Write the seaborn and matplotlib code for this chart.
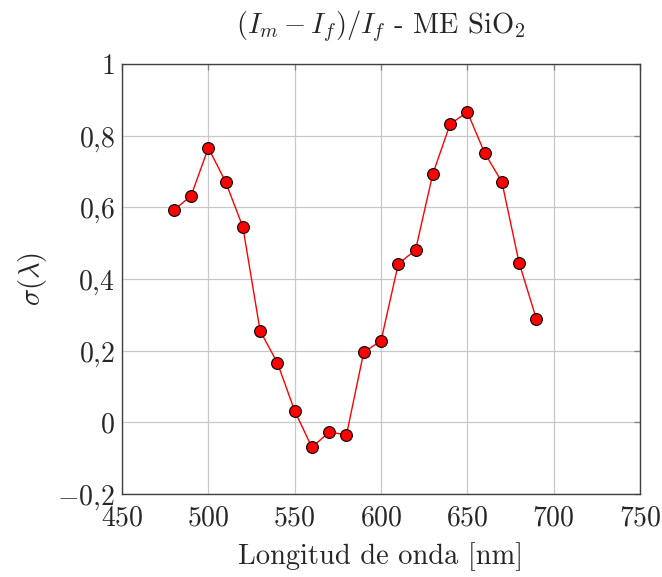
import matplotlib
matplotlib.use("Agg")
import matplotlib.pyplot as plt
import seaborn as sns
import pandas as pd
from matplotlib.ticker import FuncFormatter, MultipleLocator

wavelength = [480, 490, 500, 510, 520, 530, 540, 550, 560, 570, 580,
              590, 600, 610, 620, 630, 640, 650, 660, 670, 680, 690]
sigma = [0.592, 0.632, 0.766, 0.671, 0.545, 0.255, 0.166, 0.032, -0.070, -0.027, -0.035,
         0.196, 0.227, 0.442, 0.481, 0.693, 0.832, 0.866, 0.752, 0.671, 0.445, 0.288]

title = r"$(I_m - I_f)/I_f$ - ME SiO$_2$"
xlabel = "Longitud de onda [nm]"
ylabel = r"$\sigma(\lambda)$"

sns.set_style("white")
plt.rcParams["font.family"] = ["cmr10", "DejaVu Serif"]
plt.rcParams["mathtext.fontset"] = "cm"
plt.rcParams["axes.unicode_minus"] = True

df = pd.DataFrame({"wl": wavelength, "s": sigma})

fig = plt.figure(figsize=(6.62, 5.77), dpi=100)
ax = fig.add_axes([122/662, 1-494/577, (640-122)/662, (494-64)/577])

sns.lineplot(data=df, x="wl", y="s", ax=ax, color="red", linewidth=1.0,
             marker="o", markersize=8.5, markerfacecolor="red",
             markeredgecolor="black", markeredgewidth=0.8, zorder=3)

ax.set_xlim(450, 750)
ax.set_ylim(-0.2, 1.0)
ax.xaxis.set_major_locator(MultipleLocator(50))
ax.yaxis.set_major_locator(MultipleLocator(0.2))

def yfmt(v, pos):
    if abs(v) < 1e-9:
        return r"$0$"
    if abs(v - 1) < 1e-9:
        return r"$1$"
    s = f"{v:.1f}".replace(".", "{,}")
    return "$" + s + "$"

ax.yaxis.set_major_formatter(FuncFormatter(yfmt))
ax.xaxis.set_major_formatter(FuncFormatter(lambda v, p: f"${int(round(v))}$"))

ax.grid(True, color="#c8c8c8", linewidth=0.9)
ax.set_axisbelow(True)
for sp in ax.spines.values():
    sp.set_color("#404040")
    sp.set_linewidth(1.0)
    sp.set_visible(True)
ax.tick_params(direction="in", length=4, width=0.9, color="#808080",
               top=True, right=True, labelsize=20)
ax.tick_params(axis="x", pad=8)
ax.tick_params(axis="y", pad=5)

ax.set_xlabel(xlabel, fontsize=20.5, labelpad=8)
ax.set_ylabel(ylabel, fontsize=20.5, labelpad=6)
ax.set_title(title, fontsize=20.5, pad=22)

fig.savefig("out.png", dpi=100)
